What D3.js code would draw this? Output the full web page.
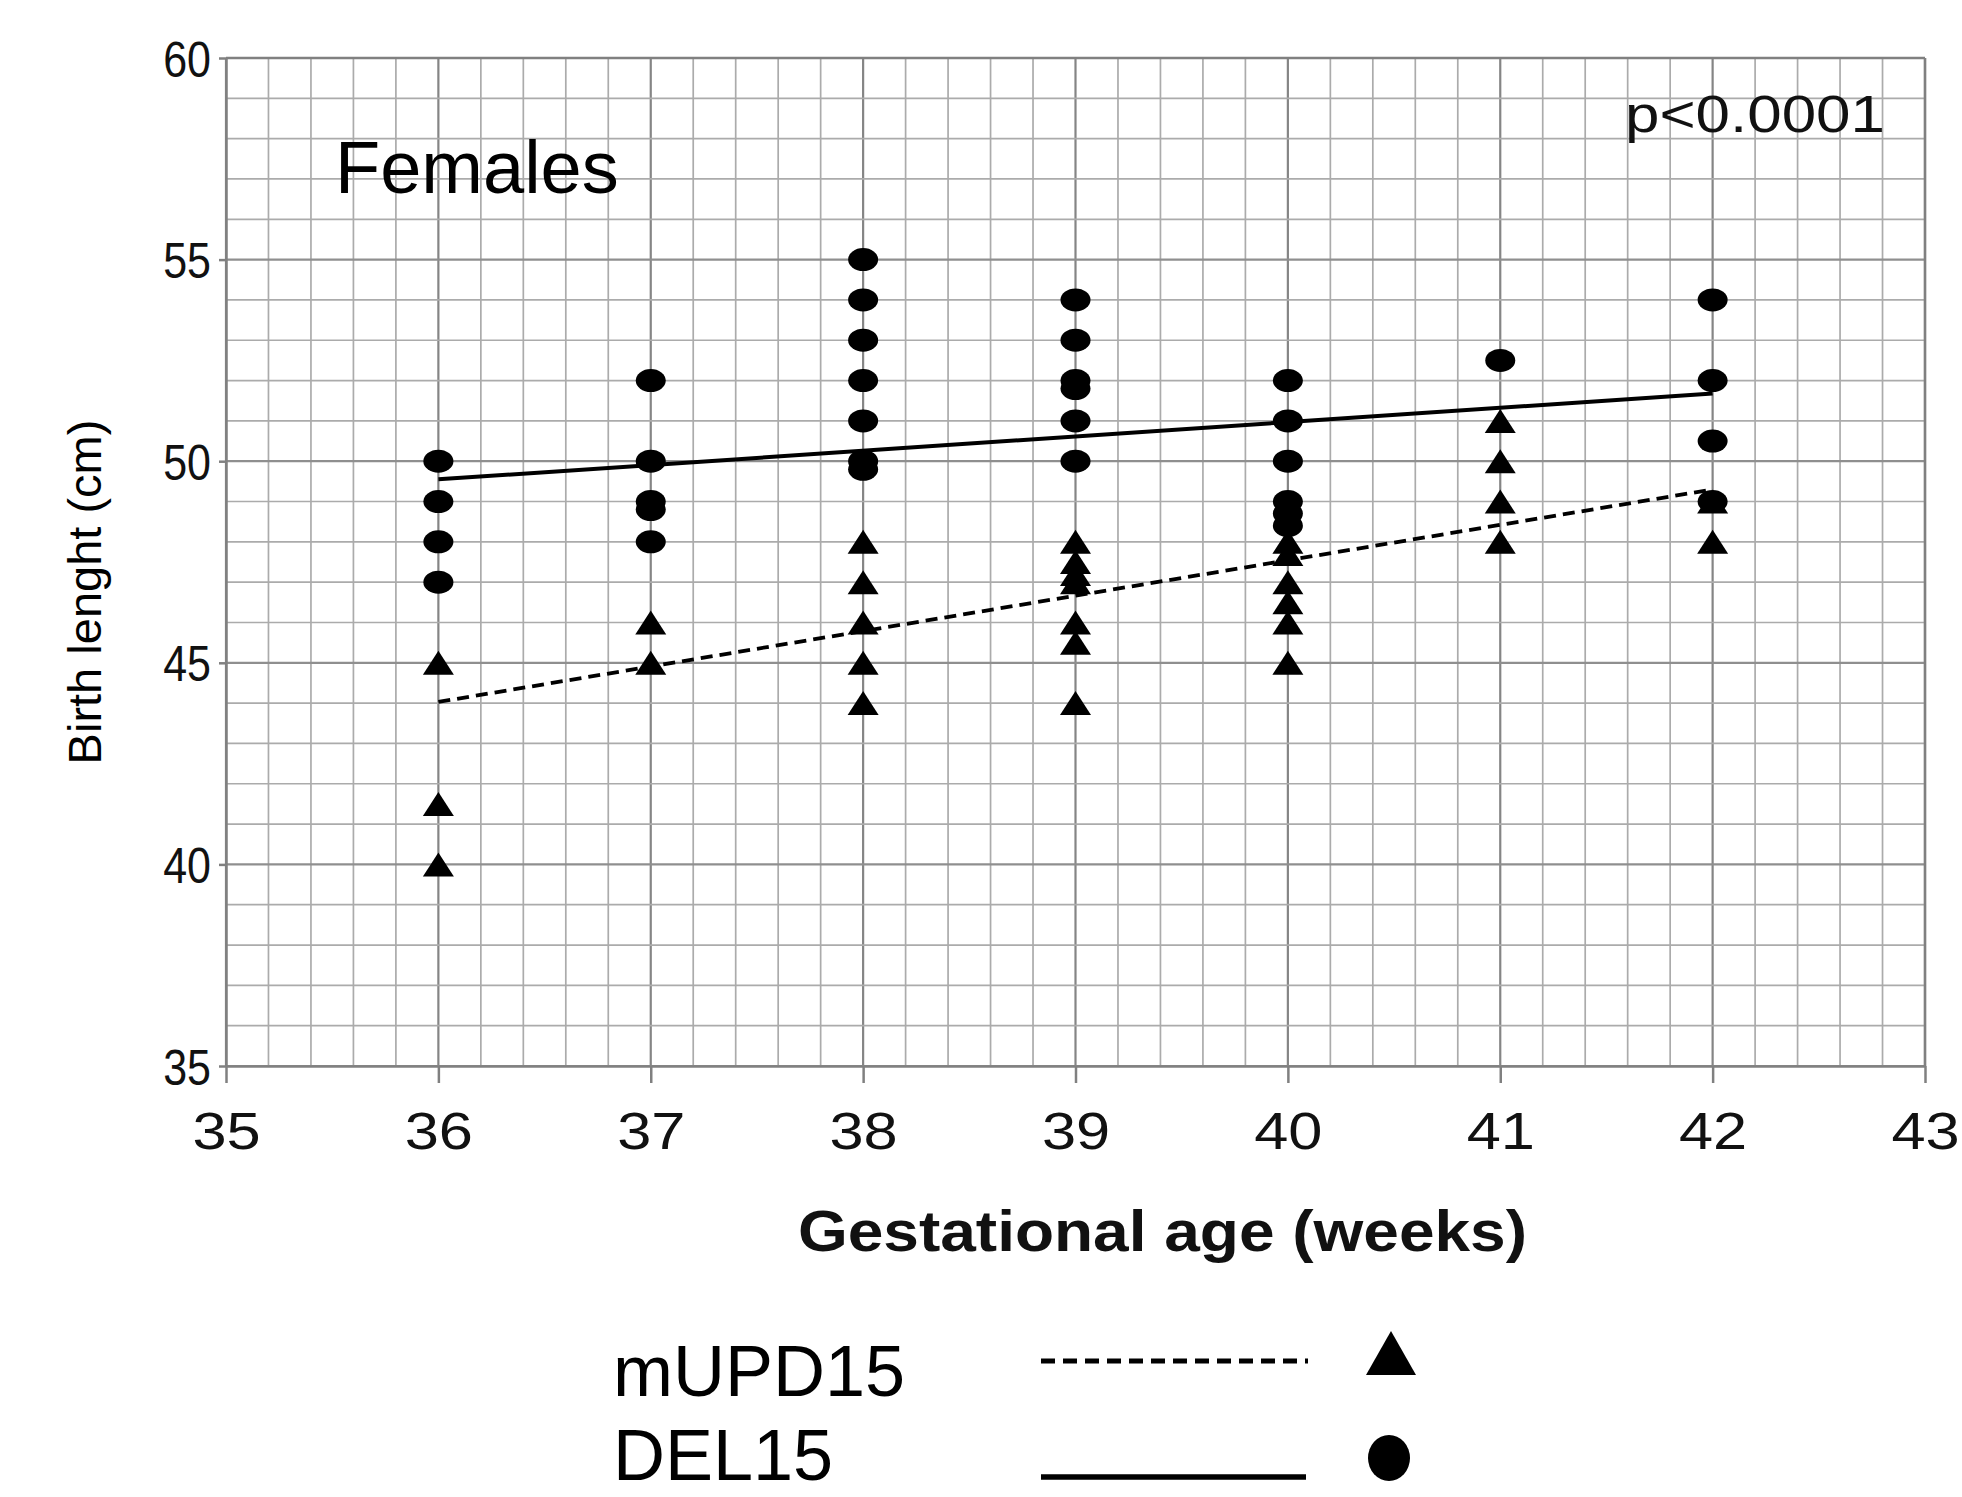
<!DOCTYPE html>
<html>
<head>
<meta charset="utf-8">
<script src="https://cdn.jsdelivr.net/npm/d3@7"></script>
<style>
  html, body { margin: 0; padding: 0; background: #fff; }
  svg { display: block; }
  text { font-family: "Liberation Sans", Arial, sans-serif; fill: #111; }
</style>
</head>
<body>
<svg id="chart" width="1962" height="1497"></svg>
<script>
// ---------- data ----------
const xTicks = [35, 36, 37, 38, 39, 40, 41, 42, 43];
const yTicks = [35, 40, 45, 50, 55, 60];

// mUPD15 (triangles): [gestational week, birth length]
const mupdWeeks  = [36, 36, 36, 37, 37, 38, 38, 38, 38, 38, 39, 39, 39, 39, 39, 39, 39, 40, 40, 40, 40, 40, 40, 41, 41, 41, 41, 42, 42];
const mupdLength = [45, 41.5, 40, 46, 45, 48, 47, 46, 45, 44, 48, 47.5, 47.2, 47, 46, 45.5, 44, 48, 47.7, 47, 46.5, 46, 45, 51, 50, 49, 48, 49, 48];

// DEL15 (circles)
const delWeeks  = [36, 36, 36, 36, 37, 37, 37, 37, 37, 38, 38, 38, 38, 38, 38, 38, 39, 39, 39, 39, 39, 39, 40, 40, 40, 40, 40, 40, 41, 42, 42, 42, 42];
const delLength = [50, 49, 48, 47, 52, 50, 49, 48.8, 48, 55, 54, 53, 52, 51, 50, 49.8, 54, 53, 52, 51.8, 51, 50, 52, 51, 50, 49, 48.7, 48.4, 52.5, 54, 52, 50.5, 49];

// fitted trend lines (end points)
const trendWeeks = [36, 42];
const mupdTrend  = [44.03, 49.3];
const delTrend   = [49.55, 51.68];

const legendLabels = ["mUPD15", "DEL15"];

// ---------- layout ----------
const svg = d3.select("#chart");
const x = d3.scaleLinear().domain([35, 43]).range([226, 1925]);
const y = d3.scaleLinear().domain([35, 60]).range([1066, 58]);

// grid
const g = svg.append("g");
const vMinor = d3.range(35, 43.0001, 0.2).map(v => +v.toFixed(1));
g.selectAll("line.vg").data(vMinor).join("line")
  .attr("x1", d => x(d)).attr("x2", d => x(d))
  .attr("y1", y(60)).attr("y2", y(35))
  .attr("stroke", d => Number.isInteger(d) ? "#858585" : "#ababab")
  .attr("stroke-width", d => Number.isInteger(d) ? 2.2 : 1.7);
const hMinor = d3.range(35, 61, 1);
g.selectAll("line.hg").data(hMinor).join("line")
  .attr("x1", x(35)).attr("x2", x(43))
  .attr("y1", d => y(d)).attr("y2", d => y(d))
  .attr("stroke", d => d % 5 === 0 ? "#8f8f8f" : "#ababab")
  .attr("stroke-width", d => d % 5 === 0 ? 2.2 : 1.7);

// axes
const xAxis = d3.axisBottom(x).tickValues(xTicks).tickSize(17).tickSizeOuter(0).tickFormat(d3.format("d"));
const xg = svg.append("g").attr("transform", `translate(0,${y(35)})`).call(xAxis);
xg.select(".domain").attr("stroke", "#808080").attr("stroke-width", 2.5);
xg.selectAll(".tick line").attr("stroke", "#808080").attr("stroke-width", 2.5);
xg.selectAll(".tick text")
  .attr("y", 0).attr("dy", 0)
  .attr("transform", "translate(0,83) scale(1.18,1)")
  .style("font-size", "52px").style("fill", "#111");

const yAxis = d3.axisLeft(y).tickValues(yTicks).tickSize(7).tickSizeOuter(0).tickFormat(d3.format("d"));
const yg = svg.append("g").attr("transform", `translate(${x(35)},0)`).call(yAxis);
yg.select(".domain").attr("stroke", "#808080").attr("stroke-width", 2.5);
yg.selectAll(".tick line").attr("stroke", "#808080").attr("stroke-width", 2.5);
yg.selectAll(".tick text")
  .attr("x", -15 / 0.86).attr("dy", "0.36em")
  .attr("transform", "scale(0.86,1)")
  .style("font-size", "50px").style("fill", "#111");

// frame (top and right)
svg.append("line").attr("x1", x(35)).attr("x2", x(43)).attr("y1", y(60)).attr("y2", y(60))
  .attr("stroke", "#808080").attr("stroke-width", 2.5);
svg.append("line").attr("x1", x(43)).attr("x2", x(43)).attr("y1", y(60)).attr("y2", y(35))
  .attr("stroke", "#808080").attr("stroke-width", 2.5);

// trend lines
const lineGen = d3.line().x(d => x(d[0])).y(d => y(d[1]));
svg.append("path").datum(trendWeeks.map((w, i) => [w, delTrend[i]]))
  .attr("d", lineGen).attr("fill", "none").attr("stroke", "#000").attr("stroke-width", 4);
svg.append("path").datum(trendWeeks.map((w, i) => [w, mupdTrend[i]]))
  .attr("d", lineGen).attr("fill", "none").attr("stroke", "#000").attr("stroke-width", 3.8)
  .attr("stroke-dasharray", "12,7");

// markers
const tri = "M0,-12L15.5,12L-15.5,12Z";
svg.append("g").selectAll("path").data(mupdWeeks.map((w, i) => [w, mupdLength[i]])).join("path")
  .attr("d", tri)
  .attr("transform", d => `translate(${x(d[0])},${y(d[1])})`)
  .attr("fill", "#000");
svg.append("g").selectAll("ellipse").data(delWeeks.map((w, i) => [w, delLength[i]])).join("ellipse")
  .attr("cx", d => x(d[0])).attr("cy", d => y(d[1]))
  .attr("rx", 15).attr("ry", 11.5)
  .attr("fill", "#000");

// annotations
svg.append("text").attr("x", 335).attr("y", 193).text("Females")
  .style("font-size", "74px").style("fill", "#000");
svg.append("text").attr("x", 1625).attr("y", 132).text("p<0.0001")
  .attr("textLength", 260).attr("lengthAdjust", "spacingAndGlyphs")
  .style("font-size", "52px").style("fill", "#111");

// axis titles
svg.append("text").attr("x", 798).attr("y", 1251).text("Gestational age (weeks)")
  .attr("textLength", 729).attr("lengthAdjust", "spacingAndGlyphs")
  .style("font-size", "57px").style("font-weight", "bold");
svg.append("text").attr("transform", "translate(101,592) rotate(-90)")
  .attr("text-anchor", "middle").text("Birth lenght (cm)")
  .style("font-size", "47px").style("fill", "#000");

// legend
const leg = svg.append("g");
leg.selectAll("text").data(legendLabels).join("text")
  .attr("x", 613).attr("y", (d, i) => 1396 + i * 84)
  .text(d => d).style("font-size", "72px").style("fill", "#000");
leg.append("line").attr("x1", 1041).attr("x2", 1308).attr("y1", 1361).attr("y2", 1361)
  .attr("stroke", "#000").attr("stroke-width", 5).attr("stroke-dasharray", "14,8");
leg.append("line").attr("x1", 1041).attr("x2", 1306).attr("y1", 1477).attr("y2", 1477)
  .attr("stroke", "#000").attr("stroke-width", 5.5);
leg.append("path").attr("d", "M0,-22L25,22L-25,22Z").attr("transform", "translate(1391,1353)").attr("fill", "#000");
leg.append("ellipse").attr("cx", 1389).attr("cy", 1458).attr("rx", 21).attr("ry", 23).attr("fill", "#000");
</script>
</body>
</html>
